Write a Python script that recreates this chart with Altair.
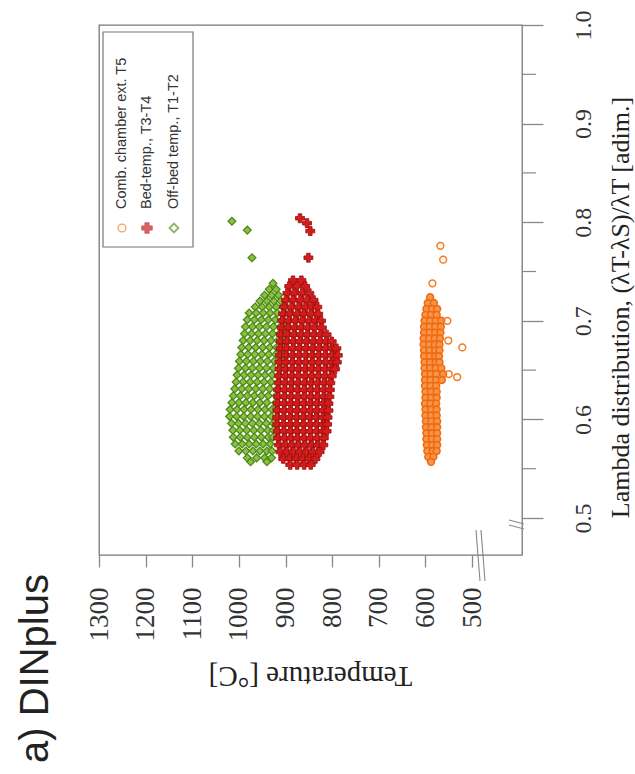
import altair as alt
import pandas as pd

# ---------------- data ----------------
temp_ticks = [500, 600, 700, 800, 900, 1000, 1100, 1200, 1300]
lambda_ticks = [0.5, 0.6, 0.7, 0.8, 0.9, 1.0]
lambda_minor = [0.55, 0.65, 0.75, 0.85, 0.95]

series_names = ["Comb. chamber ext. T5", "Bed-temp., T3-T4", "Off-bed temp., T1-T2"]

# Off-bed temp., T1-T2 (green diamonds): rows of lambda, temperatures per row
green_lambda = [0.738, 0.732, 0.726, 0.720, 0.714, 0.708, 0.701, 0.694, 0.687, 0.680,
                0.673, 0.666, 0.659, 0.652, 0.645, 0.638, 0.631, 0.624, 0.617, 0.610,
                0.603, 0.596, 0.589, 0.582, 0.575, 0.568, 0.561, 0.557]
green_temps = [
    [927],
    [935, 920],
    [945, 930, 915],
    [955, 940, 925, 910],
    [965, 950, 935, 920, 905],
    [978, 963, 948, 933, 918, 902],
    [982, 967, 952, 937, 922, 907],
    [986, 971, 956, 941, 926, 911, 899],
    [988, 973, 958, 943, 928, 913, 900],
    [991, 976, 961, 946, 931, 916, 904],
    [994, 979, 964, 949, 934, 919, 905],
    [996, 981, 966, 951, 936, 921, 907],
    [999, 984, 969, 954, 939, 924, 909],
    [1001, 986, 971, 956, 941, 926, 911],
    [1004, 989, 974, 959, 944, 929, 914],
    [1006, 991, 976, 961, 946, 931, 915],
    [1009, 994, 979, 964, 949, 934, 917],
    [1012, 997, 982, 967, 952, 937, 920],
    [1015, 1000, 985, 970, 955, 940, 921],
    [1019, 1004, 989, 974, 959, 944, 929, 920],
    [1020, 1005, 990, 975, 960, 945, 930],
    [1016, 1001, 986, 971, 956, 941, 926],
    [1013, 998, 983, 968, 953, 938, 926],
    [1012, 997, 982, 967, 952, 937, 927],
    [1008, 993, 978, 963, 948, 933],
    [1000, 985, 970, 955, 940, 929],
    [982, 962, 945, 930],
    [975, 940],
]
green_out_lambda = [0.801, 0.792, 0.764]
green_out_temp = [1015, 982, 972]

# Bed-temp., T3-T4 (red crosses)
red_lambda = [0.741, 0.735, 0.728, 0.721, 0.714, 0.707, 0.700, 0.693, 0.686, 0.679,
              0.672, 0.665, 0.658, 0.651, 0.644, 0.637, 0.630, 0.623, 0.616, 0.609,
              0.602, 0.595, 0.588, 0.581, 0.574, 0.567, 0.560, 0.554]
red_temps = [
    [884, 866],
    [892, 876, 858],
    [896, 881, 864, 849],
    [899, 884, 868, 853, 840],
    [903, 887, 872, 857, 843, 832],
    [905, 891, 875, 861, 846, 830],
    [907, 893, 879, 864, 849, 835, 824],
    [908, 894, 880, 866, 852, 838, 822],
    [910, 896, 882, 867, 853, 839, 825, 812],
    [910, 897, 883, 869, 855, 840, 826, 812, 801],
    [911, 898, 884, 870, 856, 842, 828, 814, 800, 791],
    [912, 899, 885, 871, 857, 843, 829, 815, 801, 788],
    [913, 899, 885, 871, 856, 842, 828, 813, 799, 790],
    [913, 900, 886, 872, 858, 844, 830, 815, 802, 794],
    [914, 900, 886, 872, 857, 843, 829, 815, 801],
    [915, 901, 887, 873, 859, 845, 831, 817, 804],
    [916, 902, 888, 874, 860, 846, 832, 818, 805],
    [916, 902, 888, 873, 859, 845, 831, 817, 806],
    [917, 903, 889, 875, 861, 847, 833, 819, 808],
    [917, 903, 889, 875, 860, 846, 832, 818, 808],
    [918, 904, 890, 876, 862, 848, 834, 820, 810],
    [918, 904, 890, 876, 861, 847, 833, 819, 811],
    [917, 903, 889, 875, 861, 847, 833, 820, 812],
    [916, 902, 888, 874, 860, 846, 832, 818],
    [914, 900, 886, 872, 858, 844, 830, 819],
    [911, 897, 883, 869, 855, 841, 827],
    [905, 891, 877, 863, 849, 836],
    [890, 875, 860, 846],
]
red_out_lambda = [0.804, 0.799, 0.791, 0.764]
red_out_temp = [869, 854, 847, 851]

# Comb. chamber ext. T5 (orange circles)
orange_lambda = [0.724, 0.718, 0.712, 0.706, 0.700, 0.694, 0.688, 0.682, 0.676, 0.670,
                 0.664, 0.658, 0.652, 0.646, 0.640, 0.634, 0.628, 0.622, 0.616, 0.610,
                 0.604, 0.598, 0.592, 0.586, 0.580, 0.574, 0.568, 0.562, 0.557]
orange_temps = [
    [590],
    [595, 582],
    [598, 586, 575],
    [600, 588, 576],
    [602, 590, 578, 566],
    [603, 591, 579, 567],
    [603, 591, 579, 568],
    [604, 592, 580, 569],
    [604, 592, 580, 570],
    [603, 591, 579, 570],
    [603, 591, 579, 571],
    [602, 590, 578, 570],
    [602, 590, 578, 566],
    [601, 589, 577, 562],
    [601, 589, 577, 565],
    [601, 589, 577],
    [600, 588, 576],
    [600, 588, 576],
    [601, 589, 577],
    [600, 588, 576],
    [600, 588, 576],
    [599, 587, 575],
    [599, 587, 575],
    [598, 586, 575],
    [598, 586, 575],
    [597, 585, 575],
    [596, 584, 576],
    [594, 583],
    [588],
]
orange_out_lambda = [0.776, 0.762, 0.738, 0.700, 0.680, 0.673, 0.646, 0.643]
orange_out_temp = [568, 562, 585, 553, 551, 521, 550, 532]


def build(lams, rows):
    recs = []
    for lam, ts in zip(lams, rows):
        for t in ts:
            recs.append({"lam": lam, "temp": t})
    return pd.DataFrame(recs)


def build_pts(lams, temps):
    return pd.DataFrame({"lam": lams, "temp": temps})


df_green = pd.concat([build(green_lambda, green_temps),
                      build_pts(green_out_lambda, green_out_temp)])
df_red = pd.concat([build(red_lambda, red_temps),
                    build_pts(red_out_lambda, red_out_temp)])
df_orange = build(orange_lambda, orange_temps)
df_orange_out = build_pts(orange_out_lambda, orange_out_temp)

SERIF = "Liberation Serif"
SANS = "Liberation Sans"

x_enc = alt.X(
    "temp:Q",
    scale=alt.Scale(domain=[393, 1300], reverse=True, nice=False, zero=False),
    axis=alt.Axis(
        values=temp_ticks, format="d", title="Temperature [°C]", orient="bottom",
        labelAngle=270, labelAlign="right", labelBaseline="middle",
        labelFont=SERIF, labelFontSize=27, labelColor="#333", labelPadding=20,
        tickSize=12, tickColor="#888", tickWidth=1.3, domain=False, grid=False,
        titleFont=SERIF, titleFontSize=29, titleFontWeight="normal", titleColor="#222",
        titleAngle=180, titleX=211, titleY=120, titleAlign="center", titleBaseline="middle",
        labelOverlap=False, labelFlush=False,
    ),
)
y_enc = alt.Y(
    "lam:Q",
    scale=alt.Scale(domain=[0.4625, 1.0], nice=False, zero=False),
    axis=alt.Axis(
        values=lambda_ticks, format=".1f", orient="right",
        title="Lambda distribution, (λT-λS)/λT [adim.]",
        labelAngle=270, labelAlign="center", labelBaseline="top",
        labelFont=SERIF, labelFontSize=24, labelColor="#333", labelPadding=28,
        tickSize=21, tickColor="#888", tickWidth=1.3, domain=False, grid=False,
        titleFont=SERIF, titleFontSize=26, titleFontWeight="normal", titleColor="#222",
        titleAngle=270, titleX=98, titleY=282, titleAlign="center", titleBaseline="middle",
        labelOverlap=False, labelFlush=False,
    ),
)

green_layer = alt.Chart(df_green).mark_point(
    shape="diamond", filled=True, size=60, fill="#8cc044", stroke="#4e8a18",
    strokeWidth=1.3, opacity=1
).encode(x=x_enc, y=y_enc)

red_layer = alt.Chart(df_red).mark_point(
    shape="cross", filled=True, size=80, fill="#d41c1c", stroke="#9a0c0c",
    strokeWidth=0.8, opacity=1
).encode(x=x_enc, y=y_enc)

orange_layer = alt.Chart(df_orange).mark_point(
    shape="circle", filled=True, size=46, fill="#f6954a", stroke="#f26a10",
    strokeWidth=1.6, opacity=1
).encode(x=x_enc, y=y_enc)

orange_out_layer = alt.Chart(df_orange_out).mark_point(
    shape="circle", filled=False, size=46, color="#f47a20", strokeWidth=1.5, opacity=1
).encode(x=x_enc, y=y_enc)

minor_ticks = alt.Chart(pd.DataFrame({"lam": lambda_minor})).mark_rule(
    color="#888", strokeWidth=1.2
).encode(y=y_enc, x=alt.value(423), x2=alt.value(437))

# axis break marks
brk = pd.DataFrame({"k": [0]})
breaks = alt.layer(
    alt.Chart(brk).mark_rule(color="#888", strokeWidth=1.1).encode(
        x=alt.value(377), x2=alt.value(381), y=alt.value(505), y2=alt.value(556)),
    alt.Chart(brk).mark_rule(color="#888", strokeWidth=1.1).encode(
        x=alt.value(382), x2=alt.value(386), y=alt.value(505), y2=alt.value(556)),
    alt.Chart(brk).mark_rule(color="#888", strokeWidth=1.1).encode(
        x=alt.value(410), x2=alt.value(425), y=alt.value(495), y2=alt.value(499)),
    alt.Chart(brk).mark_rule(color="#888", strokeWidth=1.1).encode(
        x=alt.value(410), x2=alt.value(425), y=alt.value(500), y2=alt.value(504)),
)

# legend drawn by hand (rotated like the rest of the figure)
legend_box = alt.Chart(brk).mark_rect(
    fill="white", stroke="#777", strokeWidth=1.2
).encode(x=alt.value(4), x2=alt.value(94), y=alt.value(7), y2=alt.value(222))

leg_sym_orange = alt.Chart(brk).mark_point(
    shape="circle", filled=False, size=60, color="#f47a20", strokeWidth=1.4
).encode(x=alt.value(23), y=alt.value(203))
leg_sym_red = alt.Chart(brk).mark_point(
    shape="cross", filled=True, size=110, fill="#d41c1c", stroke="#9a0c0c", strokeWidth=0.8
).encode(x=alt.value(48), y=alt.value(203))
leg_sym_green = alt.Chart(brk).mark_point(
    shape="diamond", filled=False, size=80, color="#5a9a20", strokeWidth=1.8
).encode(x=alt.value(75), y=alt.value(203))


def leg_text(label, xpos):
    return alt.Chart(pd.DataFrame({"t": [label]})).mark_text(
        angle=270, align="left", baseline="middle", font=SANS, fontSize=14.5,
        color="#333"
    ).encode(text="t:N", x=alt.value(xpos), y=alt.value(184))


panel_title = alt.Chart(pd.DataFrame({"t": ["a) DINplus"]})).mark_text(
    angle=270, align="left", baseline="middle", font=SANS, fontSize=40, color="#222"
).encode(text="t:N", x=alt.value(-63), y=alt.value(738))

chart = alt.layer(
    green_layer, red_layer, orange_layer, orange_out_layer, minor_ticks, breaks,
    legend_box, leg_sym_orange, leg_sym_red, leg_sym_green,
    leg_text(series_names[0], 23), leg_text(series_names[1], 48), leg_text(series_names[2], 75),
    panel_title,
).properties(
    width=423, height=530,
    padding={"left": 99, "top": 25, "right": 113, "bottom": 219},
    autosize=alt.AutoSizeParams(type="none"),
    background="white",
).configure_view(stroke="#777", strokeWidth=1.3)

chart.save("out.html", embed_options={"renderer": "svg", "actions": False})
